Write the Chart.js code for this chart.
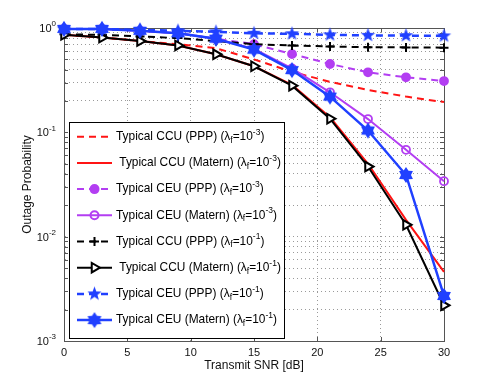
<!DOCTYPE html>
<html>
<head>
<meta charset="utf-8">
<script src="https://cdn.jsdelivr.net/npm/chart.js@4.4.1/dist/chart.umd.min.js"></script>
<style>
    html, body { margin: 0; padding: 0; background: #fff; }
    #wrap { width: 491px; height: 382px; }
</style>
</head>
<body>
<div id="wrap"><canvas id="chart" width="491" height="382"></canvas></div>
<script>
/* Outage probability vs transmit SNR */

const FONT = "'Liberation Sans', Arial, Helvetica, sans-serif";

// x positions (dB)
const snr = [0, 3, 6, 9, 12, 15, 18, 21, 24, 27, 30];

// series values
const ccuPPP3    = [0.86, 0.81, 0.75, 0.70, 0.64, 0.50, 0.38, 0.305, 0.255, 0.22, 0.195];
const ccuMatern3 = [0.86, 0.81, 0.75, 0.68, 0.56, 0.43, 0.285, 0.14, 0.05, 0.0145, 0.0046];
const ceuPPP3    = [0.98, 0.98, 0.94, 0.89, 0.79, 0.70, 0.563, 0.452, 0.376, 0.337, 0.31];
const ceuMatern3 = [0.98, 0.98, 0.94, 0.89, 0.79, 0.63, 0.41, 0.242, 0.134, 0.068, 0.034];
const ccuPPP1    = [0.87, 0.86, 0.83, 0.80, 0.75, 0.70, 0.68, 0.665, 0.655, 0.652, 0.648];
const ccuMatern1 = [0.86, 0.81, 0.75, 0.68, 0.56, 0.43, 0.28, 0.135, 0.047, 0.013, 0.0022];
const ceuPPP1    = [0.98, 0.98, 0.96, 0.94, 0.92, 0.89, 0.88, 0.86, 0.85, 0.845, 0.84];
const ceuMatern1 = [0.98, 0.98, 0.94, 0.89, 0.79, 0.62, 0.395, 0.22, 0.104, 0.039, 0.0027];

// axis ticks / labels
const xTicks = [0, 5, 10, 15, 20, 25, 30];
const yDecades = [1e-3, 1e-2, 1e-1, 1];
const yExpLabels = ['-3', '-2', '-1', '0'];

// legend text
const legendNames = [
    'Typical CCU (PPP)', ' Typical CCU (Matern)', 'Typical CEU (PPP)', 'Typical CEU (Matern)',
    'Typical CCU (PPP)', ' Typical CCU (Matern)', 'Typical CEU (PPP)', 'Typical CEU (Matern)'
];
const legendExps = ['-3', '-3', '-3', '-3', '-1', '-1', '-1', '-1'];

const RED = '#ff1414';
const PURPLE = '#b33ef2';
const BLUE = '#2040ff';
const DASH = [7, 5];

// filled star markers (MATLAB 'p' and 'h')
function makeStar(points, rOut, rIn, color) {
    const c = document.createElement('canvas');
    const s = Math.ceil(rOut * 2 + 2);
    c.width = s; c.height = s;
    const g = c.getContext('2d');
    g.fillStyle = color;
    g.beginPath();
    for (let i = 0; i < points * 2; i++) {
        const r = i % 2 === 0 ? rOut : rIn;
        const a = -Math.PI / 2 + i * Math.PI / points;
        const px = s / 2 + r * Math.cos(a), py = s / 2 + r * Math.sin(a);
        if (i === 0) g.moveTo(px, py); else g.lineTo(px, py);
    }
    g.closePath();
    g.fill();
    return c;
}
const pentagram = makeStar(5, 7.5, 3.1, BLUE);
const hexagram = makeStar(6, 8, 5, BLUE);

const series = [
    { data: ccuPPP3,    color: RED,    width: 2,   dash: DASH, marker: null },
    { data: ccuMatern3, color: RED,    width: 2,   dash: [],   marker: null },
    { data: ceuPPP3,    color: PURPLE, width: 2,   dash: DASH, marker: 'circle', radius: 4, fill: PURPLE },
    { data: ceuMatern3, color: PURPLE, width: 2,   dash: [],   marker: 'circle', radius: 4, fill: 'rgba(0,0,0,0)' },
    { data: ccuPPP1,    color: '#000', width: 2,   dash: DASH, marker: 'cross', radius: 4.5, fill: '#000' },
    { data: ccuMatern1, color: '#000', width: 2,   dash: [],   marker: 'triangle', radius: 5.5, rotation: 90, fill: '#fff' },
    { data: ceuPPP1,    color: BLUE,   width: 2.5, dash: DASH, marker: pentagram, radius: 7 },
    { data: ceuMatern1, color: BLUE,   width: 2.5, dash: [],   marker: hexagram, radius: 7 }
];

const datasets = series.map((s, i) => ({
    data: s.data.map((v, j) => ({ x: snr[j], y: v })),
    borderColor: s.color,
    backgroundColor: s.color,
    borderWidth: s.width,
    borderDash: s.dash,
    pointStyle: s.marker || 'circle',
    pointRadius: s.marker ? s.radius : 0,
    pointRotation: s.rotation || 0,
    pointBorderWidth: s.color === PURPLE ? 1.8 : 2,
    pointBorderColor: s.color,
    pointBackgroundColor: s.fill || s.color,
    tension: 0,
    clip: false,
    order: series.length - i
}));

function drawMarker(ctx, s, x, y) {
    if (!s.marker) return;
    ctx.save();
    ctx.setLineDash([]);
    ctx.lineWidth = 2;
    ctx.strokeStyle = s.color;
    ctx.fillStyle = s.fill || s.color;
    const r = s.radius;
    if (typeof s.marker === 'object') {
        ctx.drawImage(s.marker, x - s.marker.width / 2, y - s.marker.height / 2);
    } else if (s.marker === 'circle') {
        ctx.beginPath();
        ctx.arc(x, y, r, 0, Math.PI * 2);
        ctx.fill();
        ctx.stroke();
    } else if (s.marker === 'cross') {
        ctx.beginPath();
        ctx.moveTo(x - r, y); ctx.lineTo(x + r, y);
        ctx.moveTo(x, y - r); ctx.lineTo(x, y + r);
        ctx.stroke();
    } else if (s.marker === 'triangle') {
        ctx.beginPath();
        for (let k = 0; k < 3; k++) {
            const a = k * 2 * Math.PI / 3;
            const px = x + Math.cos(a) * r, py = y + Math.sin(a) * r;
            if (k === 0) ctx.moveTo(px, py); else ctx.lineTo(px, py);
        }
        ctx.closePath();
        ctx.fill();
        ctx.stroke();
    }
    ctx.restore();
}

const decorPlugin = {
    id: 'decor',
    beforeDatasetsDraw(chart) {
        const { ctx, chartArea: a, scales } = chart;
        ctx.save();
        ctx.strokeStyle = '#555';
        ctx.lineWidth = 1;
        ctx.beginPath();
        // box (top/right)
        ctx.moveTo(a.left, a.top + 0.5); ctx.lineTo(a.right, a.top + 0.5);
        ctx.moveTo(a.right + 0.5, a.top); ctx.lineTo(a.right + 0.5, a.bottom);
        // inward ticks
        scales.x.ticks.forEach(t => {
            const px = Math.round(scales.x.getPixelForValue(t.value)) + 0.5;
            ctx.moveTo(px, a.bottom); ctx.lineTo(px, a.bottom - 4);
            ctx.moveTo(px, a.top); ctx.lineTo(px, a.top + 4);
        });
        scales.y.ticks.forEach(t => {
            const py = Math.round(scales.y.getPixelForValue(t.value)) + 0.5;
            ctx.moveTo(a.left, py); ctx.lineTo(a.left + 4, py);
            ctx.moveTo(a.right, py); ctx.lineTo(a.right - 4, py);
        });
        ctx.stroke();
        ctx.restore();
    },
    afterDraw(chart) {
        const { ctx, chartArea: a, scales } = chart;
        ctx.save();
        ctx.fillStyle = '#111';

        // y tick labels 10^n
        yDecades.forEach((v, i) => {
            const py = scales.y.getPixelForValue(v);
            ctx.font = '8px ' + FONT;
            const supW = ctx.measureText(yExpLabels[i]).width;
            ctx.font = '11px ' + FONT;
            const baseW = ctx.measureText('10').width;
            const xs = 56 - supW;
            ctx.textBaseline = 'middle';
            ctx.textAlign = 'left';
            ctx.fillText('10', xs - baseW, py + 1);
            ctx.font = '8px ' + FONT;
            ctx.fillText(yExpLabels[i], xs, py - 4);
        });

        // axis titles
        ctx.font = '12px ' + FONT;
        ctx.textAlign = 'center';
        ctx.textBaseline = 'middle';
        ctx.fillText('Transmit SNR [dB]', (a.left + a.right) / 2, 366);
        ctx.save();
        ctx.translate(28, (a.top + a.bottom) / 2);
        ctx.rotate(-Math.PI / 2);
        ctx.fillText('Outage Probability', 0, 0);
        ctx.restore();

        // legend box
        const lx = 69.5, ly = 122.5, lw = 215, lh = 216;
        ctx.fillStyle = '#fff';
        ctx.fillRect(lx, ly, lw, lh);
        ctx.strokeStyle = '#000';
        ctx.lineWidth = 1;
        ctx.strokeRect(lx, ly, lw, lh);

        series.forEach((s, i) => {
            const y = 136.7 + i * 26.2;
            ctx.save();
            ctx.strokeStyle = s.color;
            ctx.lineWidth = s.width;
            ctx.setLineDash(s.dash);
            ctx.beginPath();
            ctx.moveTo(77, y); ctx.lineTo(112, y);
            ctx.stroke();
            ctx.restore();
            drawMarker(ctx, s, 94.5, y);

            ctx.fillStyle = '#000';
            ctx.textAlign = 'left';
            ctx.textBaseline = 'middle';
            let x = 116;
            const big = '11.9px ' + FONT, small = '8.5px ' + FONT;
            const parts = [
                [legendNames[i] + ' (', big, 0],
                ['\u03bb', big, 0],
                ['f', small, 3.5],
                ['=10', big, 0],
                [legendExps[i], small, -4.5],
                [')', big, 0]
            ];
            parts.forEach(([t, f, dy]) => {
                ctx.font = f;
                ctx.fillText(t, x, y + dy);
                x += ctx.measureText(t).width;
            });
        });
        ctx.restore();
    }
};

new Chart(document.getElementById('chart'), {
    type: 'line',
    data: { datasets: datasets },
    options: {
        responsive: false,
        animation: false,
        layout: { padding: { top: 28, right: 47, left: 0, bottom: 0 } },
        plugins: { legend: { display: false }, tooltip: { enabled: false } },
        scales: {
            x: {
                type: 'linear',
                min: 0,
                max: 30,
                afterBuildTicks: (scale) => { scale.ticks = xTicks.map(v => ({ value: v })); },
                afterFit: (scale) => { scale.height = 41; },
                ticks: { font: { size: 11, family: FONT }, color: '#111', padding: 5, maxRotation: 0 },
                grid: { color: '#9a9a9a', lineWidth: 1, drawTicks: false },
                border: { color: '#555', width: 1, dash: [1, 3] }
            },
            y: {
                type: 'logarithmic',
                min: 1e-3,
                max: 1,
                afterBuildTicks: (scale) => {
                    const t = [];
                    for (let d = 0; d < yDecades.length - 1; d++) {
                        for (let m = 1; m < 10; m++) t.push({ value: m * yDecades[d] });
                    }
                    t.push({ value: yDecades[yDecades.length - 1] });
                    scale.ticks = t;
                },
                afterFit: (scale) => { scale.width = 64; },
                ticks: { display: false, autoSkip: false },
                grid: { color: '#9a9a9a', lineWidth: 1, drawTicks: false },
                border: { color: '#555', width: 1, dash: [1, 3] }
            }
        }
    },
    plugins: [decorPlugin]
});
</script>
</body>
</html>
